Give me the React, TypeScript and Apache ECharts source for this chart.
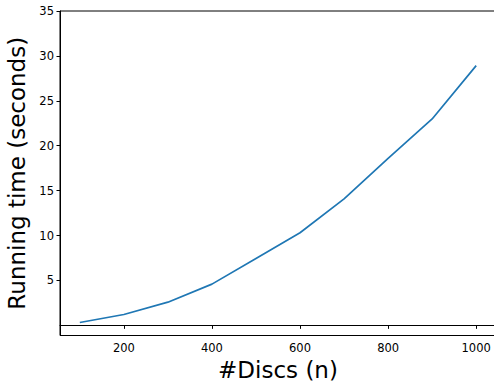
import React, { useEffect, useRef } from "react";
import * as echarts from "echarts";

const discs = [100, 200, 300, 400, 500, 600, 700, 800, 900, 1000];
const runningTime = [0.32, 1.21, 2.58, 4.59, 7.45, 10.31, 14.08, 18.6, 22.98, 28.92];
const xTicks = [200, 400, 600, 800, 1000];
const yTicks = [5, 10, 15, 20, 25, 30, 35];

const FONT = "DejaVu Sans";

export default function App() {
  const ref = useRef<HTMLDivElement>(null);
  useEffect(() => {
    if (!ref.current) return;
    const chart = echarts.init(ref.current, undefined, { renderer: "svg" });
    chart.setOption({
      animation: false,
      backgroundColor: "#ffffff",
      textStyle: { fontFamily: FONT },
      grid: {
        left: 60,
        top: 11,
        width: 436,
        height: 324.5,
        containLabel: false,
        outerBoundsMode: "none",
        show: true,
        borderColor: "#000",
        borderWidth: 1,
        backgroundColor: "transparent",
      },
      xAxis: {
        type: "value",
        min: 55,
        max: 1045,
        name: "#Discs (n)",
        nameLocation: "middle",
        nameGap: 22,
        nameTextStyle: { fontSize: 23, color: "#000", fontFamily: FONT },
        axisLine: { show: true, lineStyle: { color: "#000", width: 1 } },
        axisTick: { show: true, length: 3.5, customValues: xTicks, lineStyle: { color: "#000" } },
        axisLabel: {
          customValues: xTicks,
          fontSize: 11.5,
          color: "#000",
          margin: 6,
          fontFamily: FONT,
          formatter: (v: number) => String(v),
        },
        splitLine: { show: false },
      },
      yAxis: {
        type: "value",
        min: -1.13,
        max: 35,
        name: "Running time (seconds)",
        nameLocation: "middle",
        nameGap: 21,
        nameTextStyle: { fontSize: 23, color: "#000", fontFamily: FONT },
        axisLine: { show: true, lineStyle: { color: "#000", width: 1 } },
        axisTick: { show: true, length: 3.5, customValues: yTicks, lineStyle: { color: "#000" } },
        axisLabel: {
          customValues: yTicks,
          fontSize: 11.5,
          color: "#000",
          margin: 6,
          fontFamily: FONT,
          formatter: (v: number) => String(v),
        },
        splitLine: { show: false },
      },
      series: [
        {
          type: "line",
          data: discs.map((d, i) => [d, runningTime[i]]),
          showSymbol: false,
          symbol: "none",
          lineStyle: { color: "#1f77b4", width: 1.7 },
          itemStyle: { color: "#1f77b4" },
        },
      ],
    });
    return () => chart.dispose();
  }, []);
  return (
    <div
      ref={ref}
      style={{ position: "fixed", left: 0, top: 0, width: 494, height: 387 }}
    />
  );
}
